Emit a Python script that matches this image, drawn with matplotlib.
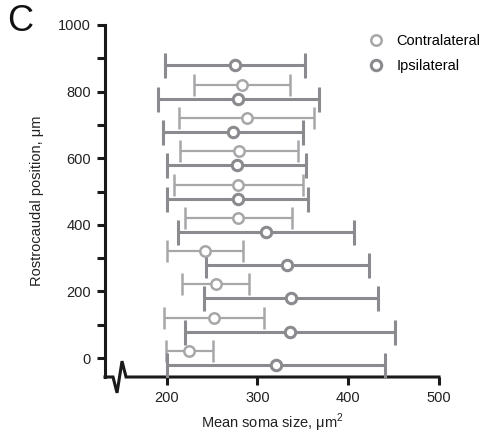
import matplotlib.pyplot as plt
from matplotlib.lines import Line2D
from matplotlib.ticker import MultipleLocator

plt.rcParams["font.family"] = ["Liberation Sans", "DejaVu Sans"]

# rostrocaudal bins (um) and soma size mean +/- SD (um^2)
contra_pos = [0, 100, 200, 300, 400, 500, 600, 700, 800]
contra_mean = [225, 252, 254, 242, 279, 279, 280, 288, 283]
contra_sd = [26, 55, 37, 42, 59, 71, 65, 74, 53]

ipsi_pos = [0, 100, 200, 300, 400, 500, 600, 700, 800, 900]
ipsi_mean = [320, 336, 337, 333, 309, 278, 277, 273, 279, 275]
ipsi_sd = [120, 116, 96, 90, 97, 78, 77, 77, 89, 77]

CONTRA_COLOR = "#a7a7aa"
IPSI_COLOR = "#8b8b8f"
SHIFT = 21  # vertical nudge so the two sides don't overlap

fig = plt.figure(figsize=(4.92, 4.37), dpi=100)
ax = fig.add_axes([0.2134, 0.1373, 0.6789, 0.8055])

ax.errorbar(contra_mean, [p + SHIFT for p in contra_pos], xerr=contra_sd,
            fmt="o", color=CONTRA_COLOR, ecolor=CONTRA_COLOR, elinewidth=1.6,
            capsize=8, capthick=1.6, markersize=7.5, markeredgewidth=1.8,
            markerfacecolor="white", zorder=3)
ax.errorbar(ipsi_mean, [p - SHIFT for p in ipsi_pos], xerr=ipsi_sd,
            fmt="o", color=IPSI_COLOR, ecolor=IPSI_COLOR, elinewidth=2.2,
            capsize=9, capthick=2.2, markersize=7.5, markeredgewidth=2.2,
            markerfacecolor="white", zorder=3)

ax.set_xlim(132, 500)
ax.set_ylim(-57, 1000)
ax.set_xticks([200, 300, 400, 500])
ax.yaxis.set_major_locator(MultipleLocator(200))
ax.yaxis.set_minor_locator(MultipleLocator(100))
ax.tick_params(axis="both", which="both", direction="out", length=6, width=2.2,
               color="#1a1a1a", labelsize=10.5, labelcolor="#222222", pad=4)

for side in ("top", "right", "bottom"):
    ax.spines[side].set_visible(False)
ax.spines["left"].set_linewidth(2.2)
ax.spines["left"].set_color("#1a1a1a")

# x axis line with a break symbol near the origin
brk = Line2D([0, 0.024, 0.036, 0.051, 0.063, 1.0],
             [0, 0, -0.045, 0.045, 0, 0],
             transform=ax.transAxes, color="#1a1a1a", linewidth=2.2,
             clip_on=False, solid_joinstyle="miter")
ax.add_line(brk)

ax.set_xlabel("Mean soma size, μm$^{\\mathregular{2}}$", fontsize=10.5, color="#222222",
              labelpad=5)
ax.set_ylabel("Rostrocaudal position, μm", fontsize=10.5, color="#222222", labelpad=10)

handles = [
    Line2D([], [], linestyle="none", marker="o", markersize=7.5, markeredgewidth=1.8,
           color=CONTRA_COLOR, markerfacecolor="white", label="Contralateral"),
    Line2D([], [], linestyle="none", marker="o", markersize=7.5, markeredgewidth=2.2,
           color=IPSI_COLOR, markerfacecolor="white", label="Ipsilateral"),
]
fig.legend(handles=handles, loc="upper left", bbox_to_anchor=(369 / 492, 1 - 34 / 437),
           frameon=False, fontsize=10.5, handletextpad=0.9, borderaxespad=0,
           borderpad=0, labelspacing=0.75, handlelength=1.0)

fig.text(0.015, 0.99, "C", fontsize=26, va="top", ha="left", color="#111111")

fig.savefig("out.png", dpi=100)
